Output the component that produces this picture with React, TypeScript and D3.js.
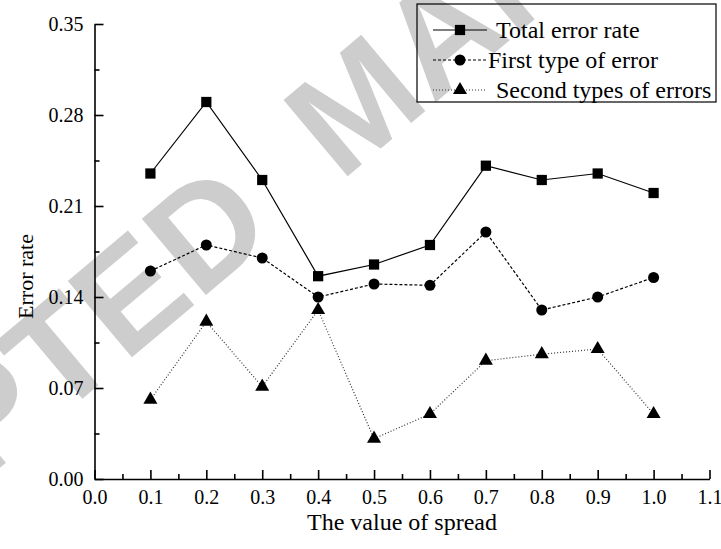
import * as d3 from 'd3';
import React, { useEffect, useRef } from 'react';

// spread values on the x axis
const spread = [0.1, 0.2, 0.3, 0.4, 0.5, 0.6, 0.7, 0.8, 0.9, 1.0];
const totalError = [0.235, 0.29, 0.23, 0.156, 0.165, 0.18, 0.241, 0.23, 0.235, 0.22];
const firstError = [0.16, 0.18, 0.17, 0.14, 0.15, 0.149, 0.19, 0.13, 0.14, 0.155];
const secondError = [0.061, 0.121, 0.071, 0.13, 0.031, 0.05, 0.091, 0.096, 0.1, 0.05];

const xTicks = [0, 0.1, 0.2, 0.3, 0.4, 0.5, 0.6, 0.7, 0.8, 0.9, 1.0, 1.1];
const xMinor = [0.05, 0.15, 0.25, 0.35, 0.45, 0.55, 0.65, 0.75, 0.85, 0.95, 1.05];
const yTicks = [0, 0.07, 0.14, 0.21, 0.28, 0.35];
const yMinor = [0.035, 0.105, 0.175, 0.245, 0.315];

const seriesNames = ['Total error rate', 'First type of error', 'Second types of errors'];

const W = 721;
const H = 549;
const serif = '"Liberation Serif", "Times New Roman", serif';

function App() {
  const ref = useRef(null);

  useEffect(() => {
    document.body.style.margin = '0';
    const svg = d3.select(ref.current);
    svg.selectAll('*').remove();

    const margin = { top: 24, right: 11.5, bottom: 70, left: 94.5 };
    const x = d3.scaleLinear().domain([0, 1.1]).range([margin.left, W - margin.right]);
    const y = d3.scaleLinear().domain([0, 0.35]).range([H - margin.bottom, margin.top]);

    // watermark behind everything
    const wm = svg.append('g').attr('transform', 'translate(205,228) rotate(-40)');
    wm.append('text')
      .attr('x', -745)
      .attr('y', 52)
      .attr('fill', '#cdcdcd')
      .style('font-family', '"Liberation Sans", Arial, sans-serif')
      .style('font-weight', 'bold')
      .style('font-size', '145px')
      .style('word-spacing', '40px')
      .text('ACCEPTED MANUSCRIPT');

    // axes, ticks point inward
    const xAxis = (g) =>
      g
        .attr('transform', `translate(0,${y(0)})`)
        .call(d3.axisBottom(x).tickValues(xTicks).tickFormat(d3.format('.1f'))
          .tickSizeInner(-9).tickSizeOuter(0).tickPadding(11))
        .call((g) => g.selectAll('text').style('font-size', '20px').style('font-family', serif).attr('fill', '#000'));
    const xMinorAxis = (g) =>
      g
        .attr('transform', `translate(0,${y(0)})`)
        .call(d3.axisBottom(x).tickValues(xMinor).tickFormat(() => '').tickSizeInner(-5).tickSizeOuter(0))
        .call((g) => g.select('.domain').remove());
    const yAxis = (g) =>
      g
        .attr('transform', `translate(${x(0)},0)`)
        .call(d3.axisLeft(y).tickValues(yTicks).tickFormat(d3.format('.2f'))
          .tickSizeInner(-9).tickSizeOuter(0).tickPadding(11))
        .call((g) => g.selectAll('text').style('font-size', '20px').style('font-family', serif).attr('fill', '#000'));
    const yMinorAxis = (g) =>
      g
        .attr('transform', `translate(${x(0)},0)`)
        .call(d3.axisLeft(y).tickValues(yMinor).tickFormat(() => '').tickSizeInner(-5).tickSizeOuter(0))
        .call((g) => g.select('.domain').remove());

    svg.append('g').call(xMinorAxis);
    svg.append('g').call(yMinorAxis);
    svg.append('g').call(xAxis);
    svg.append('g').call(yAxis);
    svg.selectAll('.domain, .tick line').attr('stroke', '#000').attr('stroke-width', 1.6);

    // axis titles
    svg.append('text')
      .attr('transform', `translate(33,${(y(0) + y(0.35)) / 2 + 25}) rotate(-90)`)
      .attr('text-anchor', 'middle')
      .style('font-family', serif)
      .style('font-size', '22px')
      .text('Error rate');
    svg.append('text')
      .attr('x', (x(0) + x(1.1)) / 2)
      .attr('y', 530)
      .attr('text-anchor', 'middle')
      .style('font-family', serif)
      .style('font-size', '24px')
      .text('The value of spread');

    const series = [
      { name: seriesNames[0], values: totalError, dash: null, symbol: d3.symbolSquare, size: 105 },
      { name: seriesNames[1], values: firstError, dash: '3,2', symbol: d3.symbolCircle, size: 95 },
      { name: seriesNames[2], values: secondError, dash: '1,2', symbol: d3.symbolTriangle, size: 85 },
    ];

    const line = d3.line().x((d) => x(d[0])).y((d) => y(d[1]));

    series.forEach((s) => {
      const pts = spread.map((v, i) => [v, s.values[i]]);
      svg.append('path')
        .datum(pts)
        .attr('d', line)
        .attr('fill', 'none')
        .attr('stroke', s.dash === '1,2' ? '#333' : '#000')
        .attr('stroke-width', 1.2)
        .attr('stroke-dasharray', s.dash);
      svg.append('g')
        .selectAll('path')
        .data(pts)
        .join('path')
        .attr('transform', (d) => `translate(${x(d[0])},${y(d[1])})`)
        .attr('d', d3.symbol(s.symbol, s.size))
        .attr('fill', '#000');
    });

    // legend
    const lg = svg.append('g');
    lg.append('rect')
      .attr('x', 417).attr('y', 4).attr('width', 299).attr('height', 98)
      .attr('fill', 'none').attr('stroke', '#000').attr('stroke-width', 1.2);
    series.forEach((s, i) => {
      const ly = 30 + i * 30;
      lg.append('line')
        .attr('x1', 433).attr('x2', 487).attr('y1', ly).attr('y2', ly)
        .attr('stroke', s.dash === '1,2' ? '#333' : '#000')
        .attr('stroke-width', 1.2)
        .attr('stroke-dasharray', s.dash);
      lg.append('path')
        .attr('transform', `translate(460,${ly})`)
        .attr('d', d3.symbol(s.symbol, s.size))
        .attr('fill', '#000');
      lg.append('text')
        .attr('x', i === 1 ? 488 : 496)
        .attr('y', ly)
        .attr('dy', '0.33em')
        .style('font-family', serif)
        .style('font-size', '24px')
        .text(s.name);
    });
  }, []);

  return <svg ref={ref} width={W} height={H} style={{ display: 'block', background: '#fff' }} />;
}

export default App;
